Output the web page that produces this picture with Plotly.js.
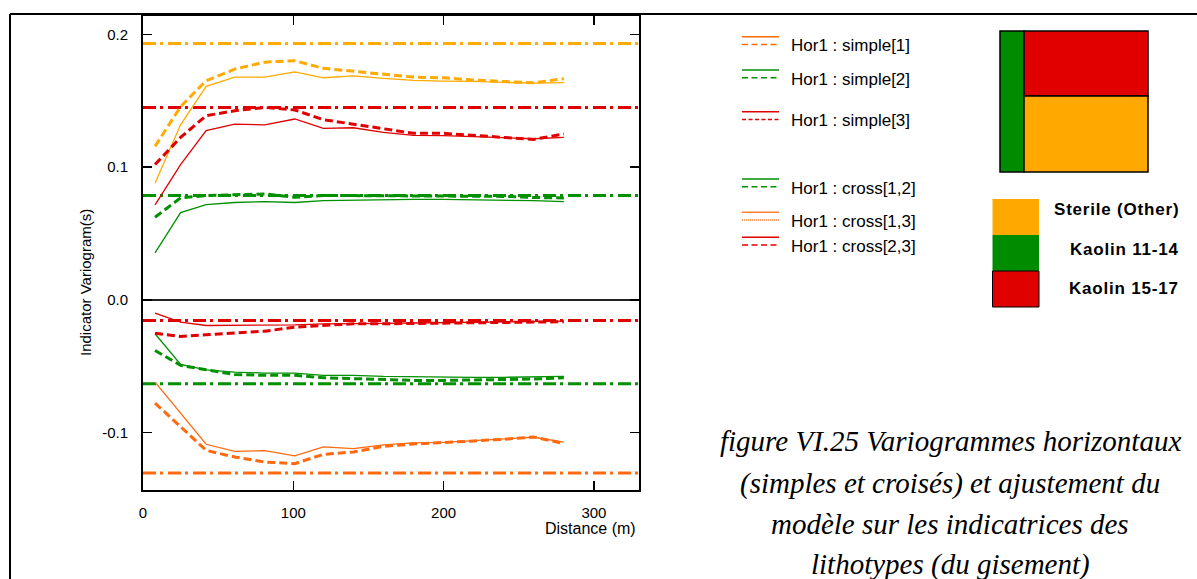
<!DOCTYPE html>
<html>
<head>
<meta charset="utf-8">
<script src="https://cdn.plot.ly/plotly-3.0.1.min.js"></script>
<style>html,body{margin:0;padding:0;background:#fff;}#chart{width:1197px;height:579px;}</style>
</head>
<body>
<div id="chart"></div>
<script>
// ---------- data ----------
const lags = [8, 25, 42, 61, 81, 101, 120, 140, 160, 180, 200, 220, 240, 260, 280];

// simple variograms (experimental = solid, second curve = dashed)
const simple1Solid = [0.088, 0.132, 0.161, 0.168, 0.168, 0.172, 0.1675, 0.169, 0.167, 0.1655, 0.165, 0.1648, 0.164, 0.1635, 0.1638];
const simple1Dash  = [0.1158, 0.1457, 0.1653, 0.174, 0.1793, 0.1804, 0.1746, 0.1723, 0.1703, 0.168, 0.1675, 0.1658, 0.1647, 0.1637, 0.1668];
const simple2Solid = [0.0354, 0.0658, 0.0718, 0.0734, 0.0741, 0.0734, 0.0748, 0.0753, 0.0756, 0.0758, 0.0757, 0.0755, 0.0752, 0.0748, 0.0741];
const simple2Dash  = [0.0623, 0.0769, 0.0786, 0.0794, 0.0799, 0.0773, 0.0786, 0.0786, 0.0784, 0.0785, 0.0785, 0.0783, 0.078, 0.0772, 0.0768];
const simple3Solid = [0.0716, 0.102, 0.1276, 0.1326, 0.1319, 0.1364, 0.1293, 0.1298, 0.1263, 0.124, 0.1238, 0.123, 0.1225, 0.1215, 0.1225];
const simple3Dash  = [0.102, 0.1225, 0.1389, 0.1426, 0.1451, 0.1432, 0.1359, 0.1326, 0.1289, 0.1256, 0.1256, 0.1238, 0.1225, 0.121, 0.1251];

// cross variograms
const cross12Solid = [-0.0256, -0.0488, -0.0528, -0.0545, -0.0553, -0.0553, -0.057, -0.057, -0.0578, -0.0582, -0.0585, -0.0585, -0.0585, -0.0582, -0.0578];
const cross12Dash  = [-0.0382, -0.0495, -0.0528, -0.0563, -0.057, -0.057, -0.0588, -0.0595, -0.0605, -0.0608, -0.0608, -0.0605, -0.0602, -0.0598, -0.0588];
const cross13Solid = [-0.0621, -0.0859, -0.109, -0.1143, -0.1138, -0.1178, -0.111, -0.1123, -0.1095, -0.108, -0.1075, -0.1062, -0.1052, -0.1037, -0.1073];
const cross13Dash  = [-0.0779, -0.096, -0.1136, -0.1186, -0.1224, -0.1236, -0.1166, -0.1148, -0.1105, -0.1088, -0.1078, -0.1065, -0.1052, -0.1035, -0.1085];
const cross23Solid = [-0.0101, -0.0169, -0.0194, -0.0194, -0.0194, -0.0189, -0.0181, -0.0181, -0.0178, -0.0175, -0.0173, -0.017, -0.0168, -0.0165, -0.0161];
const cross23Dash  = [-0.0252, -0.0277, -0.0264, -0.0249, -0.0237, -0.0206, -0.0194, -0.0181, -0.0181, -0.0179, -0.0177, -0.0176, -0.0174, -0.0172, -0.0166];

// model sills (dash-dot lines)
const sillNames  = ['simple[1]', 'simple[2]', 'simple[3]', 'cross[1,2]', 'cross[1,3]', 'cross[2,3]'];
const sillValues = [0.1934, 0.0786, 0.1451, -0.0633, -0.1307, -0.0156];

const xRange = [0, 330];
const yRange = [-0.1435, 0.2141];
const yTickVals = [-0.1, 0, 0.1, 0.2];
const yTickText = ['-0.1', '0.0', '0.1', '0.2'];
const xTickVals = [0, 100, 200, 300];
const xTickText = ['0', '100', '200', '300'];

const legendLabels = ['Hor1 : simple[1]', 'Hor1 : simple[2]', 'Hor1 : simple[3]', 'Hor1 : cross[1,2]', 'Hor1 : cross[1,3]', 'Hor1 : cross[2,3]'];
const lithoLabels = ['Sterile (Other)', 'Kaolin 11-14', 'Kaolin 15-17'];
const captionLines = ['figure VI.25 Variogrammes horizontaux', '(simples et croisés) et ajustement du', 'modèle sur les indicatrices des', 'lithotypes (du gisement)'];

// ---------- styles ----------
const GOLD = '#FFAA00', ORANGE = '#FF6A10', GREEN = '#009000', RED = '#E00000';
const sillColors = [GOLD, GREEN, RED, GREEN, ORANGE, RED];
const SANS = 'Liberation Sans, Arial, sans-serif';
const SERIF = 'Liberation Serif, Times New Roman, serif';

const L = 143, R = 639, T = 16, B = 490;
const px = x => (x - L) / (R - L);
const py = y => (B - y) / (B - T);

const traces = [];
sillValues.forEach((v, i) => {
  traces.push({x: xRange, y: [v, v], mode: 'lines', name: 'sill ' + sillNames[i], showlegend: false,
    line: {color: sillColors[i], width: 3, dash: '13px,4px,3px,5px'}, hoverinfo: 'skip'});
});
const solidSeries = [[simple1Solid, GOLD], [simple2Solid, GREEN], [simple3Solid, RED], [cross12Solid, GREEN], [cross13Solid, ORANGE], [cross23Solid, RED]];
const dashSeries  = [[simple1Dash, GOLD], [simple2Dash, GREEN], [simple3Dash, RED], [cross12Dash, GREEN], [cross13Dash, ORANGE], [cross23Dash, RED]];
solidSeries.forEach(([ys, c]) => traces.push({x: lags, y: ys, mode: 'lines', showlegend: false, line: {color: c, width: 1.3}}));
dashSeries.forEach(([ys, c]) => traces.push({x: lags, y: ys, mode: 'lines', showlegend: false, line: {color: c, width: 3, dash: '8px,4px'}}));

const shapes = [];
const annotations = [];

// outer page frame
shapes.push({type: 'line', xref: 'paper', yref: 'paper', x0: px(10), x1: px(1197), y0: py(14), y1: py(14), line: {color: '#000', width: 2}});
shapes.push({type: 'line', xref: 'paper', yref: 'paper', x0: px(10), x1: px(10), y0: py(14), y1: py(579), line: {color: '#000', width: 2}});

// custom legend
const legRowY = [36.7, 70, 111.7, 179, 212.3, 237.3];
const legColors = ['#FF6A00', GREEN, RED, GREEN, '#FF8030', RED];
const legDash = ['6px,3.5px', '6px,3.5px', '4px,2.5px', '6px,3.5px', '1px,1px', '6px,3.5px'];
legendLabels.forEach((t, i) => {
  const y = legRowY[i];
  shapes.push({type: 'line', xref: 'paper', yref: 'paper', x0: px(742), x1: px(779), y0: py(y), y1: py(y), line: {color: legColors[i], width: 1.5}});
  shapes.push({type: 'line', xref: 'paper', yref: 'paper', x0: px(742), x1: px(779), y0: py(y + 7.7), y1: py(y + 7.7), line: {color: legColors[i], width: 1.5, dash: legDash[i]}});
  annotations.push({xref: 'paper', yref: 'paper', x: px(789), y: py(y + 9), xanchor: 'left', yanchor: 'middle', showarrow: false,
    text: t, font: {family: SANS, size: 17, color: '#000'}});
});

// lithotype block diagram
shapes.push({type: 'rect', xref: 'paper', yref: 'paper', x0: px(1000), x1: px(1024), y0: py(31), y1: py(172), fillcolor: '#008C00', line: {color: '#000', width: 1.5}});
shapes.push({type: 'rect', xref: 'paper', yref: 'paper', x0: px(1024), x1: px(1148), y0: py(31), y1: py(96), fillcolor: RED, line: {color: '#000', width: 1.5}});
shapes.push({type: 'rect', xref: 'paper', yref: 'paper', x0: px(1024), x1: px(1148), y0: py(96), y1: py(172), fillcolor: '#FFA800', line: {color: '#000', width: 1.5}});

// lithotype colour key
const keyColors = ['#FFA800', '#008C00', RED];
const keyTop = [199, 235, 271];
const keyTextY = [209, 250, 288];
lithoLabels.forEach((t, i) => {
  shapes.push({type: 'rect', xref: 'paper', yref: 'paper', x0: px(992.5), x1: px(1039), y0: py(keyTop[i]), y1: py(keyTop[i] + 36),
    fillcolor: keyColors[i], line: {color: i === 2 ? '#000' : 'rgba(0,0,0,0)', width: 1}});
  annotations.push({xref: 'paper', yref: 'paper', x: px(1181), y: py(keyTextY[i]), xanchor: 'right', yanchor: 'middle', showarrow: false,
    text: '<b><span style="letter-spacing:0.8px">' + t + '</span></b>', font: {family: SANS, size: 17, color: '#000'}});
});

// caption
const capY = [441, 483, 524, 564];
captionLines.forEach((t, i) => {
  annotations.push({xref: 'paper', yref: 'paper', x: px(950), y: py(capY[i]), xanchor: 'center', yanchor: 'middle', showarrow: false,
    text: '<i>' + t + '</i>', font: {family: SERIF, size: 29, color: '#000'}});
});

// axis titles
annotations.push({xref: 'paper', yref: 'paper', x: px(85), y: py(283), xanchor: 'center', yanchor: 'middle', showarrow: false, textangle: -90,
  text: 'Indicator Variogram(s)', font: {family: SANS, size: 15, color: '#000'}});
annotations.push({xref: 'paper', yref: 'paper', x: px(638), y: py(528), xanchor: 'right', yanchor: 'middle', showarrow: false,
  text: 'Distance (m)', font: {family: SANS, size: 16, color: '#000'}});

const layout = {
  width: 1197, height: 579,
  margin: {l: L, r: 1197 - R, t: T, b: 579 - B, pad: 0},
  paper_bgcolor: '#fff', plot_bgcolor: '#fff',
  showlegend: false,
  xaxis: {range: xRange, tickvals: xTickVals, ticktext: xTickText, ticks: 'inside', ticklen: 9, tickwidth: 1.5, tickcolor: '#000',
    showline: true, linecolor: '#000', linewidth: 2, mirror: 'allticks', showgrid: false, zeroline: false,
    tickfont: {family: SANS, size: 15, color: '#000'}, ticklabelstandoff: 8},
  yaxis: {range: yRange, tickvals: yTickVals, ticktext: yTickText, ticks: 'inside', ticklen: 9, tickwidth: 1.5, tickcolor: '#000',
    showline: true, linecolor: '#000', linewidth: 2, mirror: 'allticks', showgrid: false, zeroline: true, zerolinecolor: '#222', zerolinewidth: 1.8,
    tickfont: {family: SANS, size: 15, color: '#000'}, ticklabelstandoff: 10},
  shapes: shapes,
  annotations: annotations
};

Plotly.newPlot('chart', traces, layout, {staticPlot: true});
</script>
</body>
</html>
